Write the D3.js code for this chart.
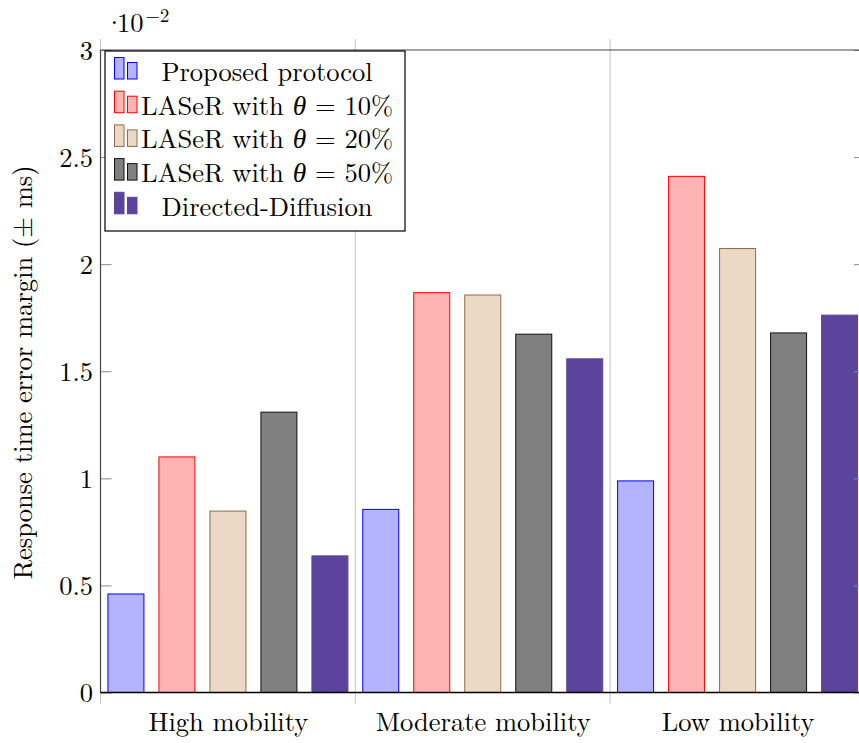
<!DOCTYPE html>
<html><head><meta charset="utf-8">
<script src="https://cdn.jsdelivr.net/npm/d3@7"></script>
<style>
body{margin:0;background:#fff;}
svg{display:block;}
</style>
</head><body><svg id="chart" width="859" height="743"></svg>
<script>
// ---------------- data ----------------
const categories = ["High mobility", "Moderate mobility", "Low mobility"];
const seriesNames = ["Proposed protocol", "LASeR with θ = 10%", "LASeR with θ = 20%", "LASeR with θ = 50%", "Directed-Diffusion"];
const proposed = [0.46, 0.855, 0.988];
const laser10  = [1.10, 1.867, 2.41];
const laser20  = [0.847, 1.856, 2.073];
const laser50  = [1.309, 1.673, 1.679];
const directed = [0.638, 1.558, 1.762];
const yTicks = [0, 0.5, 1, 1.5, 2, 2.5, 3];
const yTickLabels = ["0", "0.5", "1", "1.5", "2", "2.5", "3"];
const yLabel = "Response time error margin (± ms)";
const scaleDot = "·";
const scaleBase = "10";
const scaleExp = "−2";

const seriesValues = [proposed, laser10, laser20, laser50, directed];
const fills   = ["#b3b3ff", "#ffb3b3", "#ebd9c6", "#808080", "#5c449c"];
const strokes = ["#0000ff", "#ff0000", "#8f6b49", "#111111", "#5c449c"];

// ---------------- layout ----------------
const FONT = '"Latin Modern Roman", "Liberation Serif", serif';
const GREEK = '"Liberation Serif", serif';
const svg = d3.select("#chart");
const pL = 100.5, pR = 865, pT = 50, pB = 692.5;
const FS = 26.5;

const x = d3.scaleLinear().domain([-0.5, 2.5]).range([pL, pR]);
const inner = d3.scaleBand().domain(d3.range(seriesNames.length))
  .range([-120, 120]).paddingInner(15 / 51).paddingOuter(0);
const y = d3.scaleLinear().domain([0, 3]).range([pB, pT]);

// minor grid lines between groups (extending outside as ticks)
const minorX = [-0.5, 0.5, 1.5, 2.5];
svg.append("g").selectAll("line").data(minorX).join("line")
  .attr("x1", d => x(d)).attr("x2", d => x(d))
  .attr("y1", pT - 11).attr("y2", pB + 11)
  .attr("stroke", "#c4c4c4").attr("stroke-width", 1);

// bars
const barData = [];
seriesValues.forEach((vals, s) => vals.forEach((v, c) => barData.push({s, c, v})));
svg.append("g").selectAll("rect").data(barData).join("rect")
  .attr("x", d => x(d.c) + inner(d.s))
  .attr("width", inner.bandwidth())
  .attr("y", d => y(d.v))
  .attr("height", d => y(0) - y(d.v))
  .attr("fill", d => fills[d.s])
  .attr("stroke", d => strokes[d.s])
  .attr("stroke-width", 1);

// y ticks (left and right, inward)
const yAxisL = d3.axisLeft(y).tickValues(yTicks).tickSize(-11).tickPadding(18)
  .tickFormat((d, i) => yTickLabels[i]);
const gL = svg.append("g").attr("transform", `translate(${pL},0)`).call(yAxisL);
gL.attr("font-family", null).attr("font-size", null);
gL.select(".domain").remove();
gL.selectAll(".tick line").attr("stroke", "#8a8a8a");
gL.selectAll(".tick text").style("font-family", FONT).style("font-size", FS + "px")
  .attr("fill", "#000").attr("dy", "0.34em").attr("x", -7.5);

const yAxisR = d3.axisRight(y).tickValues(yTicks).tickSize(-11).tickFormat("");
const gR = svg.append("g").attr("transform", `translate(${pR},0)`).call(yAxisR);
gR.select(".domain").remove();
gR.selectAll(".tick line").attr("stroke", "#8a8a8a");

// frame
svg.append("line").attr("x1", pL).attr("x2", pL).attr("y1", pT).attr("y2", pB)
  .attr("stroke", "#444").attr("stroke-width", 1.2);
svg.append("line").attr("x1", pL).attr("x2", pR).attr("y1", pT).attr("y2", pT)
  .attr("stroke", "#444").attr("stroke-width", 1.2);
svg.append("line").attr("x1", pL).attr("x2", pR).attr("y1", pB).attr("y2", pB)
  .attr("stroke", "#000").attr("stroke-width", 1.3);

// x category labels
const xAxis = d3.axisBottom(x).tickValues(d3.range(categories.length))
  .tickSize(0).tickPadding(0).tickFormat((d, i) => categories[i]);
const gX = svg.append("g").attr("transform", `translate(0,${pB})`).call(xAxis);
gX.attr("font-family", null).attr("font-size", null);
gX.select(".domain").remove();
gX.selectAll(".tick text").style("font-family", FONT).style("font-size", FS + "px")
  .attr("fill", "#000").attr("dy", null).attr("y", 38.5);

// y axis label
svg.append("text")
  .attr("transform", `translate(32,372.5) rotate(-90)`)
  .attr("text-anchor", "middle")
  .style("font-family", FONT).style("font-size", FS + "px")
  .text(yLabel);

// scale note
const note = svg.append("text").attr("x", 104).attr("y", 31.5)
  .style("font-family", FONT).style("font-size", FS + "px");
note.append("tspan").text(scaleDot);
note.append("tspan").attr("x", 117).text(scaleBase);
note.append("tspan").style("font-size", "18.5px").attr("dy", -10).attr("dx", 2).text(scaleExp);

// legend
const lg = svg.append("g");
lg.append("rect").attr("x", 105).attr("y", 51).attr("width", 300).attr("height", 180)
  .attr("fill", "#fff").attr("stroke", "#000").attr("stroke-width", 1.2);
const rowH = 33.7;
seriesNames.forEach((name, i) => {
  const base = 79 + i * rowH;
  lg.append("rect").attr("x", 114.5).attr("y", base - 21.5).attr("width", 9.5).attr("height", 21.5)
    .attr("fill", fills[i]).attr("stroke", strokes[i]).attr("stroke-width", 1);
  lg.append("rect").attr("x", 127.5).attr("y", base - 16.5).attr("width", 9.5).attr("height", 16.5)
    .attr("fill", fills[i]).attr("stroke", strokes[i]).attr("stroke-width", 1);
  const t = lg.append("text").attr("x", 267).attr("y", 81 + i * rowH)
    .attr("text-anchor", "middle")
    .style("font-family", FONT).style("font-size", FS + "px");
  const parts = name.split("θ");
  t.append("tspan").text(parts[0]);
  if (parts.length > 1) {
    t.append("tspan").style("font-style", "italic").style("font-family", GREEK)
      .style("font-size", (FS + 1) + "px").text("θ");
    t.append("tspan").text(parts[1]);
  }
});
</script>
</body></html>
